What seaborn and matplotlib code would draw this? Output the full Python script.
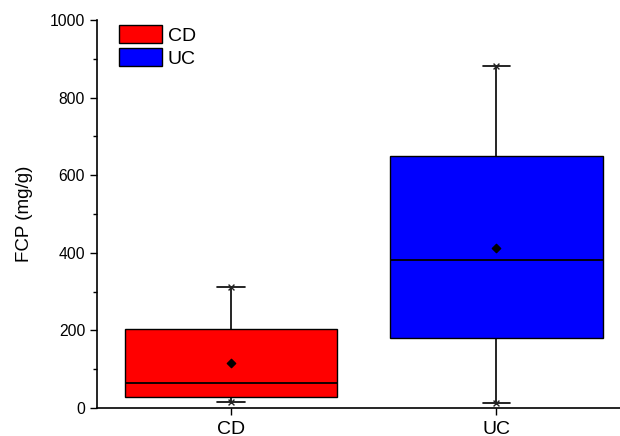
import pandas as pd
import matplotlib
matplotlib.use("Agg")
import matplotlib.pyplot as plt
import seaborn as sns
from matplotlib.ticker import MultipleLocator

# Box stats: min, Q1, median, Q3, max
groups = ['CD', 'UC']
cd_vals = [16, 29, 64, 203, 311]
uc_vals = [14, 180, 381, 650, 881]
means = [117, 413]
colors = {'CD': 'red', 'UC': 'blue'}

data = pd.DataFrame({
    'group': ['CD'] * len(cd_vals) + ['UC'] * len(uc_vals),
    'FCP': cd_vals + uc_vals,
})

sns.set_style('ticks')
plt.rcParams['font.family'] = ['Liberation Sans', 'DejaVu Sans']
plt.rcParams['text.color'] = 'black'
plt.rcParams['axes.labelcolor'] = 'black'
plt.rcParams['xtick.color'] = 'black'
plt.rcParams['ytick.color'] = 'black'

fig = plt.figure(figsize=(6.2, 4.36), dpi=100)
ax = fig.add_axes([97 / 620, 28 / 436, 523 / 620, 388 / 436])

sns.boxplot(data=data, x='group', y='FCP', hue='group', palette=colors,
            order=groups, hue_order=groups, width=0.8, whis=(0, 100),
            showfliers=False, saturation=1, linecolor='black', linewidth=1,
            capwidths=0.105, legend=True, ax=ax,
            medianprops=dict(color='black', linewidth=1.3),
            whiskerprops=dict(color='black', linewidth=1.2),
            capprops=dict(color='black', linewidth=1.2))

# whisker end markers and means
ends_x = [0, 0, 1, 1]
ends_y = [min(cd_vals), max(cd_vals), min(uc_vals), max(uc_vals)]
ax.scatter(ends_x, ends_y, marker='x', s=18, color='#222222', linewidths=1, zorder=5)
ax.scatter([0, 1], means, marker='D', s=18, color='black', zorder=5)

ax.set_xlim(-0.504, 1.465)
ax.set_ylim(0, 1000)
ax.yaxis.set_major_locator(MultipleLocator(200))
ax.yaxis.set_minor_locator(MultipleLocator(100))
ax.set_xlabel('')
ax.set_ylabel('FCP (mg/g)', fontsize=13.5, labelpad=12)
ax.tick_params(axis='both', which='major', length=5, width=1,
               direction='out', color='black', labelcolor='black')
ax.tick_params(axis='y', which='major', labelsize=11.3)
ax.tick_params(axis='x', which='major', labelsize=14, pad=4)
ax.tick_params(axis='y', which='minor', length=3, width=1, direction='out')
for s in ['top', 'right']:
    ax.spines[s].set_visible(False)
for s in ['left', 'bottom']:
    ax.spines[s].set_linewidth(1.2)
    ax.spines[s].set_color('black')

leg = ax.legend(loc='upper left', bbox_to_anchor=(119 / 620, 1 - 25 / 436),
                bbox_transform=fig.transFigure, frameon=False, fontsize=14,
                handlelength=2.2, handleheight=1.08, labelspacing=0.15,
                handletextpad=0.3, borderpad=0, borderaxespad=0)
for h in leg.legend_handles:
    h.set_edgecolor('black')
    h.set_linewidth(1)

fig.savefig('out.png', dpi=100)
